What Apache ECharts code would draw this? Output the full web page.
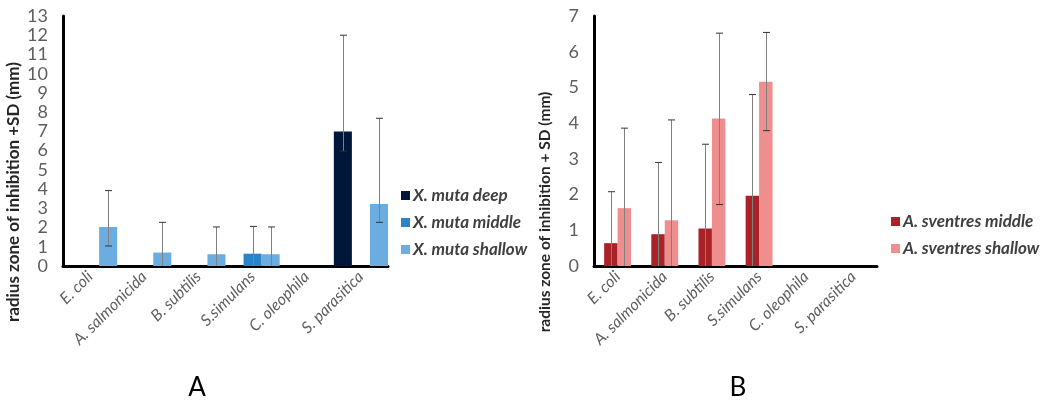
<!DOCTYPE html>
<html>
<head>
<meta charset="utf-8">
<script src="https://cdn.jsdelivr.net/npm/echarts@6/dist/echarts.min.js"></script>
<style>
  html, body { margin: 0; padding: 0; background: #fff; }
  #chart { width: 1055px; height: 404px; }
</style>
</head>
<body>
<div id="chart"></div>
<script>
// Bacterial / oomycete strains tested
const categories = ['E. coli', 'A. salmonicida', 'B. subtilis', 'S.simulans', 'C. oleophila', 'S. parasitica'];

// Panel A – Xestospongia muta extracts (mean radius, mm)
const mutaDeep    = [null, null, null, null, null, 7.0];
const mutaMiddle  = [null, null, null, 0.64, null, null];
const mutaShallow = [2.03, 0.7, 0.61, 0.61, null, 3.22];
// error bar ends (mm)
const mutaDeepLow     = [null, null, null, null, null, 5.98];
const mutaDeepHigh    = [null, null, null, null, null, 12.0];
const mutaMiddleLow   = [null, null, null, 0, null, null];
const mutaMiddleHigh  = [null, null, null, 2.06, null, null];
const mutaShallowLow  = [1.04, 0, 0, 0, null, 2.27];
const mutaShallowHigh = [3.92, 2.27, 2.03, 2.03, null, 7.68];

// Panel B – Agelas sventres extracts (mean radius, mm)
const sventresMiddle  = [0.64, 0.89, 1.05, 1.97, null, null];
const sventresShallow = [1.62, 1.28, 4.13, 5.16, null, null];
const sventresMiddleLow   = [0, 0, 0, 0, null, null];
const sventresMiddleHigh  = [2.08, 2.9, 3.41, 4.8, null, null];
const sventresShallowLow  = [0, 0, 1.72, 3.79, null, null];
const sventresShallowHigh = [3.86, 4.09, 6.52, 6.54, null, null];

const yTicksA = [0, 13];
const yTicksB = [0, 7];

const FONT = 'Lato, "Open Sans", sans-serif';
const LABEL_GRAY = '#5f5f5f';

function errData(values, low, high) {
  return values.map((v, i) => (v == null ? null : [i, low[i], high[i]])).filter(Boolean);
}

// Draws a vertical error bar centred on a bar within its category band.
function errorRenderer(offsetFrac) {
  return function (params, api) {
    const cat = api.value(0), lo = api.value(1), hi = api.value(2);
    const band = api.size([1, 0])[0];
    const x = Math.round(api.coord([cat, 0])[0] + offsetFrac * band) + 0.5;
    const yHi = api.coord([cat, hi])[1];
    const yLo = api.coord([cat, lo])[1];
    const children = [
      { type: 'line', shape: { x1: x, y1: yLo, x2: x, y2: yHi }, style: { stroke: '#808080', lineWidth: 1 } },
      { type: 'line', shape: { x1: x - 3.5, y1: yHi, x2: x + 3.5, y2: yHi }, style: { stroke: '#333', lineWidth: 1 } }
    ];
    if (lo > 0) {
      children.push({ type: 'line', shape: { x1: x - 3.5, y1: yLo, x2: x + 3.5, y2: yLo }, style: { stroke: '#333', lineWidth: 1 } });
    }
    return { type: 'group', children: children };
  };
}

function xAxisFor(gridIndex) {
  return {
    type: 'category', gridIndex: gridIndex, data: categories,
    axisLine: { lineStyle: { color: '#000', width: 3 } },
    axisTick: { show: false },
    axisLabel: { rotate: 45, margin: 8, color: LABEL_GRAY, fontSize: 16, fontStyle: 'italic', fontFamily: FONT, interval: 0 }
  };
}
function yAxisFor(gridIndex, ticks) {
  return {
    type: 'value', gridIndex: gridIndex, min: ticks[0], max: ticks[1], interval: 1,
    axisLine: { show: true, lineStyle: { color: '#000', width: 3 } },
    axisTick: { show: false },
    splitLine: { show: false },
    axisLabel: { margin: 15, color: LABEL_GRAY, fontSize: 18, fontFamily: FONT }
  };
}

const COL = {
  deep: '#00173a', middle: '#2a84ca', shallow: '#6badE0',
  svMiddle: '#a82228', svShallow: '#ef8e8e'
};

const barA = { type: 'bar', xAxisIndex: 0, yAxisIndex: 0, barGap: '0%', barCategoryGap: '0%' };
const barB = { type: 'bar', xAxisIndex: 1, yAxisIndex: 1, barGap: '0%', barCategoryGap: '43%' };
const errA = { type: 'custom', xAxisIndex: 0, yAxisIndex: 0, z: 5, encode: { x: 0, y: [1, 2] } };
const errB = { type: 'custom', xAxisIndex: 1, yAxisIndex: 1, z: 5, encode: { x: 0, y: [1, 2] } };

const legendText = { color: '#404040', fontSize: 17, fontWeight: 'bold', fontStyle: 'italic', fontFamily: FONT, padding: [0, 0, 0, -2] };
const yNameStyle = { fill: '#262626', fontSize: 17, fontWeight: 'bold', fontFamily: FONT, textAlign: 'center', textVerticalAlign: 'middle' };

const chart = echarts.init(document.getElementById('chart'), null, { renderer: 'canvas' });
chart.setOption({
  animation: false,
  backgroundColor: '#fff',
  grid: [
    { left: 63, top: 16, width: 325, height: 250 },
    { left: 594, top: 16, width: 283, height: 250 }
  ],
  xAxis: [xAxisFor(0), xAxisFor(1)],
  yAxis: [yAxisFor(0, yTicksA), yAxisFor(1, yTicksB)],
  legend: [
    { orient: 'vertical', left: 396, top: 182, itemWidth: 9, itemHeight: 9, itemGap: 10, icon: 'rect',
      data: ['X. muta deep', 'X. muta middle', 'X. muta shallow'], textStyle: legendText, selectedMode: false },
    { orient: 'vertical', left: 886, top: 208, itemWidth: 9, itemHeight: 9, itemGap: 10, icon: 'rect',
      data: ['A. sventres middle', 'A. sventres shallow'], textStyle: legendText, selectedMode: false }
  ],
  graphic: [
    { type: 'text', x: 14, y: 192, rotation: Math.PI / 2, style: Object.assign({ text: 'radius zone of inhibition +SD (mm)' }, yNameStyle) },
    { type: 'text', x: 545, y: 212, rotation: Math.PI / 2, style: Object.assign({ text: 'radius zone of inhibition + SD (mm)' }, yNameStyle, { fontSize: 15.5 }) },
    { type: 'text', x: 197, y: 388, style: { text: 'A', fill: '#000', fontSize: 26, fontFamily: FONT, textAlign: 'center', textVerticalAlign: 'middle' } },
    { type: 'text', x: 738, y: 388, style: { text: 'B', fill: '#000', fontSize: 26, fontFamily: FONT, textAlign: 'center', textVerticalAlign: 'middle' } }
  ],
  series: [
    Object.assign({ name: 'X. muta deep', data: mutaDeep, itemStyle: { color: COL.deep } }, barA),
    Object.assign({ name: 'X. muta middle', data: mutaMiddle, itemStyle: { color: COL.middle } }, barA),
    Object.assign({ name: 'X. muta shallow', data: mutaShallow, itemStyle: { color: COL.shallow } }, barA),
    Object.assign({ data: errData(mutaDeep, mutaDeepLow, mutaDeepHigh), renderItem: errorRenderer(-1 / 3) }, errA),
    Object.assign({ data: errData(mutaMiddle, mutaMiddleLow, mutaMiddleHigh), renderItem: errorRenderer(0) }, errA),
    Object.assign({ data: errData(mutaShallow, mutaShallowLow, mutaShallowHigh), renderItem: errorRenderer(1 / 3) }, errA),

    Object.assign({ name: 'A. sventres middle', data: sventresMiddle, itemStyle: { color: COL.svMiddle } }, barB),
    Object.assign({ name: 'A. sventres shallow', data: sventresShallow, itemStyle: { color: COL.svShallow } }, barB),
    Object.assign({ data: errData(sventresMiddle, sventresMiddleLow, sventresMiddleHigh), renderItem: errorRenderer(-0.57 / 4) }, errB),
    Object.assign({ data: errData(sventresShallow, sventresShallowLow, sventresShallowHigh), renderItem: errorRenderer(0.57 / 4) }, errB)
  ]
});
</script>
</body>
</html>
